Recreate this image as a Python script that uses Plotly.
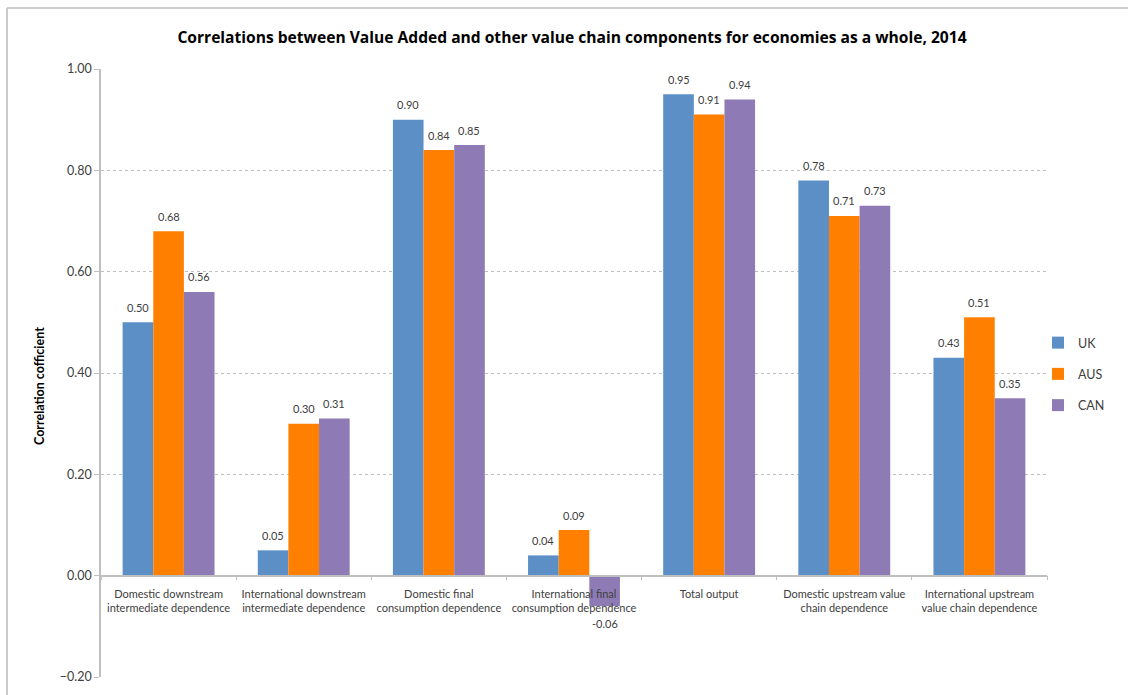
import plotly.graph_objects as go

# Value chain components (category axis)
categories = [
    "Domestic downstream<br>intermediate dependence",
    "International downstream<br>intermediate dependence",
    "Domestic final<br>consumption dependence",
    "International final<br>consumption dependence",
    "Total output",
    "Domestic upstream value<br>chain dependence",
    "International upstream<br>value chain dependence",
]

# Correlation coefficients per economy
uk = [0.50, 0.05, 0.90, 0.04, 0.95, 0.78, 0.43]
aus = [0.68, 0.30, 0.84, 0.09, 0.91, 0.71, 0.51]
can = [0.56, 0.31, 0.85, -0.06, 0.94, 0.73, 0.35]

series_names = ["UK", "AUS", "CAN"]
series_values = [uk, aus, can]
series_colors = ["#5B8FC6", "#FF7F00", "#8E7BB5"]

y_ticks = [-0.20, 0.00, 0.20, 0.40, 0.60, 0.80, 1.00]

FONT = "Lato, Open Sans, sans-serif"
TEXT_COLOR = "#404040"
GRID_COLOR = "#BFBFBF"

W, H = 1128, 695
M_L, M_R, M_T, M_B = 101, 81, 69, 18
BARGAP = 0.32
Y_RANGE = [-0.2, 1.0]

plot_w = W - M_L - M_R
plot_h = H - M_T - M_B


def px_to_paper_x(px):
    return (px - M_L) / plot_w


def px_to_paper_y(py):
    return (H - M_B - py) / plot_h


fig = go.Figure()

for name, vals, col in zip(series_names, series_values, series_colors):
    fig.add_trace(go.Bar(
        x=categories, y=vals, name=name,
        marker=dict(color=col, line=dict(width=0)),
        legendgroup=name, showlegend=True,
        hoverinfo="x+y+name",
    ))

# Invisible companion trace so the zero-line category axis is rendered
fig.add_trace(go.Scatter(
    x=categories, y=uk, xaxis="x2", yaxis="y",
    mode="markers", marker=dict(opacity=0), showlegend=False, hoverinfo="skip",
))

# Value labels above (or below) each bar
bar_w = (1 - BARGAP) / len(series_values)
annotations = []
for k, vals in enumerate(series_values):
    offset = (k - (len(series_values) - 1) / 2) * bar_w
    for i, v in enumerate(vals):
        annotations.append(dict(
            x=i + offset, y=v, xref="x", yref="y",
            text=f"{v:.2f}", showarrow=False,
            yshift=15 if v >= 0 else -17,
            font=dict(family=FONT, size=11, color=TEXT_COLOR),
        ))

# Y axis title
annotations.append(dict(
    x=px_to_paper_x(40), y=px_to_paper_y(386), xanchor="center", yanchor="middle",
    xref="paper", yref="paper", text="<b>Correlation cofficient</b>", textangle=-90,
    showarrow=False, font=dict(family=FONT, size=12.5, color="#000000"),
))

# Chart frame (top and left edges)
shapes = [
    dict(type="line", xref="paper", yref="paper",
         x0=px_to_paper_x(7), x1=px_to_paper_x(W + 5),
         y0=px_to_paper_y(8), y1=px_to_paper_y(8),
         line=dict(color="#CCCCCC", width=2)),
    dict(type="line", xref="paper", yref="paper",
         x0=px_to_paper_x(7), x1=px_to_paper_x(7),
         y0=px_to_paper_y(8), y1=px_to_paper_y(H + 5),
         line=dict(color="#CCCCCC", width=2)),
]

zero_pos = (0 - Y_RANGE[0]) / (Y_RANGE[1] - Y_RANGE[0])

fig.update_layout(
    width=W, height=H,
    margin=dict(l=M_L, r=M_R, t=M_T, b=M_B, autoexpand=False),
    paper_bgcolor="white", plot_bgcolor="white",
    barmode="group", bargap=BARGAP, bargroupgap=0,
    font=dict(family=FONT, size=12, color=TEXT_COLOR),
    title=dict(
        text="<b>Correlations between Value Added and other value chain components for economies as a whole, 2014</b>",
        x=572 / W, xanchor="center", y=1 - 38 / H, yanchor="middle",
        font=dict(family="Open Sans, sans-serif", size=15.6, color="#000000"),
    ),
    xaxis=dict(
        type="category", categoryarray=categories, range=[-0.5, len(categories) - 0.5],
        showticklabels=False, ticks="", showline=False, showgrid=False, zeroline=False,
        automargin=False,
    ),
    xaxis2=dict(
        type="category", categoryarray=categories, range=[-0.5, len(categories) - 0.5],
        overlaying="x", anchor="free", position=zero_pos, side="bottom",
        showline=True, linecolor=GRID_COLOR, linewidth=1.5,
        ticks="outside", tickson="boundaries", ticklen=4, tickcolor=GRID_COLOR,
        ticklabelstandoff=8,
        showgrid=False, zeroline=False, tickangle=0, automargin=False,
        tickfont=dict(family=FONT, size=11, color=TEXT_COLOR),
    ),
    yaxis=dict(
        range=Y_RANGE, tickvals=y_ticks, tickformat=".2f",
        showline=True, linecolor=GRID_COLOR, linewidth=1.5,
        ticks="outside", ticklen=5, tickcolor=GRID_COLOR,
        showgrid=True, gridcolor=GRID_COLOR, griddash="dot", gridwidth=1,
        zeroline=False, automargin=False,
        tickfont=dict(family=FONT, size=12.5, color=TEXT_COLOR),
    ),
    legend=dict(
        x=px_to_paper_x(1038), xanchor="left", y=px_to_paper_y(374), yanchor="middle",
        font=dict(family=FONT, size=12.5, color=TEXT_COLOR),
        tracegroupgap=12, itemwidth=30, bgcolor="rgba(0,0,0,0)",
    ),
    annotations=annotations,
    shapes=shapes,
    showlegend=True,
)

fig.write_html("out.html")
